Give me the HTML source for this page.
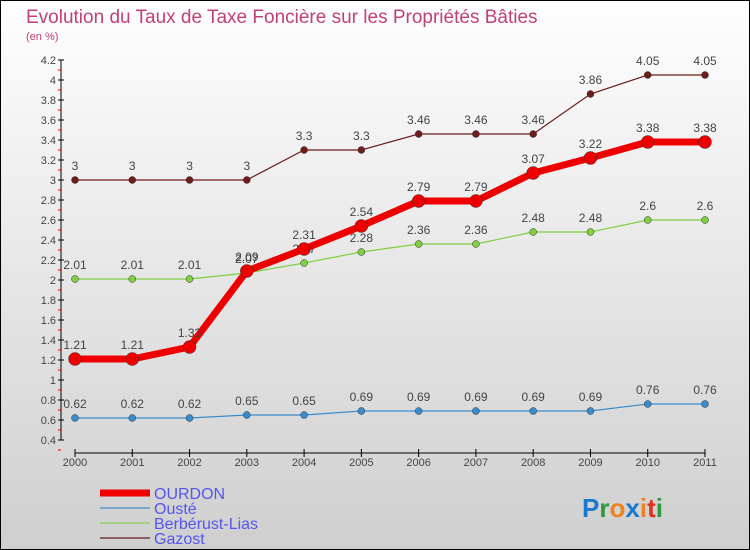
<!DOCTYPE html>
<html><head><meta charset="utf-8"><style>
body{margin:0}
#c{width:750px;height:550px;position:relative;box-sizing:border-box;border:1px solid #000;background:linear-gradient(#fefefe,#cfcfcf);font-family:"Liberation Sans",sans-serif;overflow:hidden}
</style></head><body>
<div id="c">
<svg id="s" width="750" height="550" style="position:absolute;left:-1px;top:-1px">
<text x="26" y="23" font-size="19" fill="#c0407a">Evolution du Taux de Taxe Foncière sur les Propriétés Bâties</text>
<text x="26" y="40" font-size="11" fill="#c0407a">(en %)</text>
</svg>
</div>
<script>
const years=["2000","2001","2002","2003","2004","2005","2006","2007","2008","2009","2010","2011"];
const ourdon=[1.21,1.21,1.33,2.09,2.31,2.54,2.79,2.79,3.07,3.22,3.38,3.38];
const ouste=[0.62,0.62,0.62,0.65,0.65,0.69,0.69,0.69,0.69,0.69,0.76,0.76];
const berberust=[2.01,2.01,2.01,2.07,2.17,2.28,2.36,2.36,2.48,2.48,2.6,2.6];
const gazost=[3,3,3,3,3.3,3.3,3.46,3.46,3.46,3.86,4.05,4.05];
const yTicks=["0.4","0.6","0.8","1","1.2","1.4","1.6","1.8","2","2.2","2.4","2.6","2.8","3","3.2","3.4","3.6","3.8","4","4.2"];
const NS="http://www.w3.org/2000/svg",s=document.getElementById('s');
const X=i=>75+i*(630/11), Y=v=>60+(4.2-v)*100;
function mk(t,a,p){const e=document.createElementNS(NS,t);for(const k in a)e.setAttribute(k,a[k]);(p||s).appendChild(e);return e;}
let ax=mk('line',{x1:61,y1:60,x2:61,y2:440,stroke:'#000'});


yTicks.forEach(t=>{const v=+t,y=Y(v);
 mk('line',{x1:58,y1:y,x2:64,y2:y,stroke:'#000'});
 mk('line',{x1:58,y1:y+10,x2:61,y2:y+10,stroke:'#e00'});
 const tx=mk('text',{x:56,y:y+4,'font-size':11,fill:'#444','text-anchor':'end'});tx.textContent=t;
 
 
});
let xa=mk('line',{x1:75,y1:453,x2:705,y2:453,stroke:'#000'});


years.forEach((yr,i)=>{mk('line',{x1:X(i),y1:449,x2:X(i),y2:457,stroke:'#000'});
 const t=mk('text',{x:X(i),y:466,'font-size':11,fill:'#444','text-anchor':'middle'});t.textContent=yr;
 
 });
function series(d,col,w,r,name){
 const g=mk('g',{});
 
 
 mk('polyline',{points:d.map((v,i)=>X(i)+','+Y(v)).join(' '),fill:'none',stroke:col,'stroke-width':w},g);
 d.forEach((v,i)=>{const c=mk('circle',{cx:X(i),cy:Y(v),r:r,fill:col,stroke:'#333','stroke-width':0.5},g);
  
  
  const t=mk('text',{x:X(i),y:Y(v)-10,'font-size':12,fill:'#444','text-anchor':'middle'},g);t.textContent=String(v);
  
  });
}
series(gazost,'#6e1c1c',1.2,3.5,'gazost');
series(berberust,'#7ed040',1.2,3.5,'berberust-lias');
series(ouste,'#3a8ccc',1.2,3.5,'ouste');
series(ourdon,'#ee0000',7,6.5,'ourdon');
const leg=[['OURDON','#ee0000',7],['Ousté','#7aa8cc',2],['Berbérust-Lias','#a0d080',2],['Gazost','#8c6060',2]];
leg.forEach((l,i)=>{const y=493+i*15;
 const ln=mk('line',{x1:100,y1:y,x2:150,y2:y,stroke:l[1],'stroke-width':l[2]});
 
 
 const t=mk('text',{x:154,y:y+6,'font-size':16,fill:'#5555ee'});t.textContent=l[0];
 
 });
const logo=mk('text',{x:582,y:517,'font-size':26,'font-weight':'bold'});


[['P','#1a7ad0'],['r','#2a9a3a'],['o','#f08020'],['x','#1a7ad0'],['i','#f08020'],['t','#e03020'],['i','#2a9a3a']].forEach(p=>{const ts=mk('tspan',{fill:p[1]},logo);ts.textContent=p[0];});
</script>
</body></html>
